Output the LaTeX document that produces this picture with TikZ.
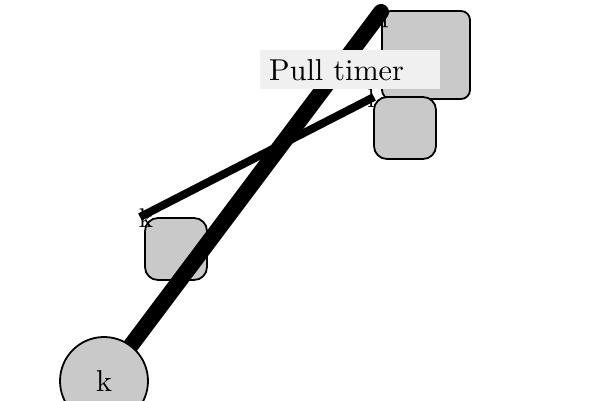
\documentclass[tikz,border=0pt]{standalone}
\usepackage{tikz}
\newcommand{\bigtxt}[1]{\scalebox{3.02}{#1}}
\newcommand{\lbltxt}[1]{\scalebox{2.7}{#1}}
\begin{document}
\begin{tikzpicture}[x=1pt,y=-1pt,
  gbox/.style={draw=black,line width=1.8pt,fill=boxgray,rounded corners=#1,inner sep=0pt},
  lbl/.style={inner sep=0pt}]
\definecolor{boxgray}{gray}{0.79}
\definecolor{textbg}{gray}{0.94}
\useasboundingbox (0,0) rectangle (600,400);
\node[gbox=9pt,minimum width=88pt,minimum height=88pt] (sq) at (426,55) {};
\node[gbox=13pt,minimum width=62pt,minimum height=62pt] (b1) at (405,128) {};
\node[gbox=13pt,minimum width=62pt,minimum height=62pt] (b2) at (176,249) {};
\node[lbl] (lq) at (381,19) {\lbltxt{q}};
\node[lbl] (ll) at (371,98) {\lbltxt{l}};
\node[lbl] (lk) at (146,218) {\lbltxt{k}};
\coordinate (q) at (381,12);
\coordinate (l) at (374,97);
\coordinate (k) at (140,217);
\coordinate (e) at (120,360);
\draw[line width=16pt,line cap=round] (q) -- (e);
\draw[line width=8pt] (l) -- (k);
\node[draw=black,line width=1.8pt,fill=boxgray,circle,minimum size=88pt,inner sep=0pt] (c) at (104,381) {\bigtxt{k}};
\node[fill=textbg,minimum width=180pt,minimum height=39pt,inner sep=0pt,anchor=north west] (t) at (260,50) {};
\node[anchor=base west,inner sep=0pt] (tt) at (269,80) {\bigtxt{Pull timer}};
\end{tikzpicture}
\end{document}
